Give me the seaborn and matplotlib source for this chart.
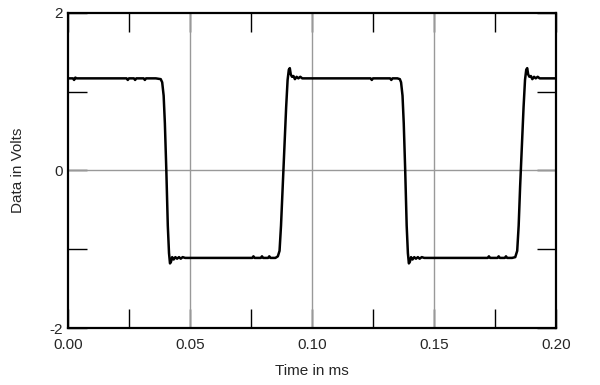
import numpy as np
import pandas as pd
import matplotlib
matplotlib.use("Agg")
import matplotlib.pyplot as plt
import seaborn as sns

# waveform breakpoints (time in ms, volts)
time_ms = [
    0.0000, 0.0020, 0.0025, 0.0030, 0.0035, 0.0050, 0.0200, 0.0240, 0.0245, 0.0250,
    0.0270, 0.0275, 0.0280, 0.0310, 0.0315, 0.0320, 0.0340, 0.0360, 0.0380, 0.0386,
    0.0392, 0.0397, 0.0403, 0.0409, 0.0414, 0.0418, 0.0422, 0.0427, 0.0433, 0.0440,
    0.0447, 0.0455, 0.0462, 0.0470, 0.0480, 0.0600, 0.0755, 0.0760, 0.0765, 0.0790,
    0.0795, 0.0800, 0.0820, 0.0825, 0.0830, 0.0850, 0.0860, 0.0867, 0.0873, 0.0880,
    0.0887, 0.0894, 0.0900, 0.0905, 0.0909, 0.0913, 0.0918, 0.0924, 0.0930, 0.0937,
    0.0944, 0.0952, 0.0960, 0.0975, 0.0985, 0.1000, 0.1100, 0.1200, 0.1240, 0.1245,
    0.1250, 0.1280, 0.1300, 0.1320, 0.1325, 0.1330, 0.1350, 0.1360, 0.1365, 0.1371,
    0.1376, 0.1382, 0.1388, 0.1393, 0.1397, 0.1401, 0.1406, 0.1412, 0.1419, 0.1426,
    0.1434, 0.1441, 0.1450, 0.1460, 0.1600, 0.1720, 0.1725, 0.1730, 0.1760, 0.1765,
    0.1770, 0.1790, 0.1795, 0.1800, 0.1820, 0.1833, 0.1841, 0.1847, 0.1853, 0.1860,
    0.1867, 0.1873, 0.1878, 0.1882, 0.1886, 0.1891, 0.1897, 0.1903, 0.1910, 0.1917,
    0.1925, 0.1933, 0.1948, 0.1958, 0.2000,
]
volts = [
    1.17, 1.17, 1.15, 1.18, 1.17, 1.17, 1.17, 1.17, 1.15, 1.17,
    1.17, 1.15, 1.17, 1.17, 1.15, 1.17, 1.17, 1.17, 1.16, 1.12,
    0.95, 0.60, 0.00, -0.70, -1.05, -1.18, -1.16, -1.10, -1.13, -1.10,
    -1.12, -1.10, -1.12, -1.10, -1.11, -1.11, -1.11, -1.09, -1.11, -1.11,
    -1.09, -1.11, -1.11, -1.09, -1.11, -1.11, -1.09, -1.02, -0.70, -0.20,
    0.30, 0.80, 1.15, 1.28, 1.30, 1.22, 1.19, 1.20, 1.16, 1.19,
    1.17, 1.19, 1.17, 1.17, 1.17, 1.17, 1.17, 1.17, 1.17, 1.15,
    1.17, 1.17, 1.17, 1.17, 1.15, 1.17, 1.17, 1.16, 1.12, 0.95,
    0.60, 0.00, -0.70, -1.05, -1.18, -1.16, -1.10, -1.13, -1.10, -1.12,
    -1.10, -1.12, -1.10, -1.11, -1.11, -1.11, -1.09, -1.11, -1.11, -1.09,
    -1.11, -1.11, -1.09, -1.11, -1.11, -1.10, -1.02, -0.70, -0.20, 0.30,
    0.80, 1.15, 1.28, 1.30, 1.22, 1.19, 1.20, 1.16, 1.19, 1.17,
    1.19, 1.17, 1.17, 1.17, 1.17,
]
x_ticks = [0.00, 0.05, 0.10, 0.15, 0.20]
x_labels = ["0.00", "0.05", "0.10", "0.15", "0.20"]
y_ticks = [-2, 0, 2]
y_labels = ["-2", "0", "2"]

df = pd.DataFrame({"t": time_ms, "v": volts})

sns.set_style("white")
plt.rcParams["font.family"] = ["Liberation Sans", "DejaVu Sans"]

fig = plt.figure(figsize=(6, 3.85), dpi=100)
ax = fig.add_axes([68 / 600, 57 / 385, 488 / 600, 315 / 385])

# grid lines only at inner positions
for gx in [0.05, 0.10, 0.15]:
    ax.axvline(gx, color="#999999", lw=1.0, zorder=1)
ax.axhline(0, color="#999999", lw=1.0, zorder=1)

sns.lineplot(data=df, x="t", y="v", color="black", lw=1.8, ax=ax, zorder=3,
             estimator=None, sort=False)

ax.set_xlim(0, 0.2)
ax.set_ylim(-2, 2)
ax.set_xticks(x_ticks)
ax.set_xticklabels(x_labels)
ax.set_xticks([0.025, 0.075, 0.125, 0.175], minor=True)
ax.set_yticks(y_ticks)
ax.set_yticklabels(y_labels)
ax.set_yticks([-1, 1], minor=True)

ax.tick_params(which="both", direction="in", length=14, width=1.0, color="black",
               top=True, right=True, bottom=True, left=True, labelsize=11)
ax.tick_params(axis="x", pad=7.5)
ax.tick_params(axis="y", pad=4)

for sp in ax.spines.values():
    sp.set_visible(True)
    sp.set_color("black")
    sp.set_linewidth(1.6)

ax.set_xlabel("Time in ms", fontsize=11, labelpad=8.5)
ax.set_ylabel("Data in Volts", fontsize=11, labelpad=17)

fig.savefig("out.png", dpi=100)
